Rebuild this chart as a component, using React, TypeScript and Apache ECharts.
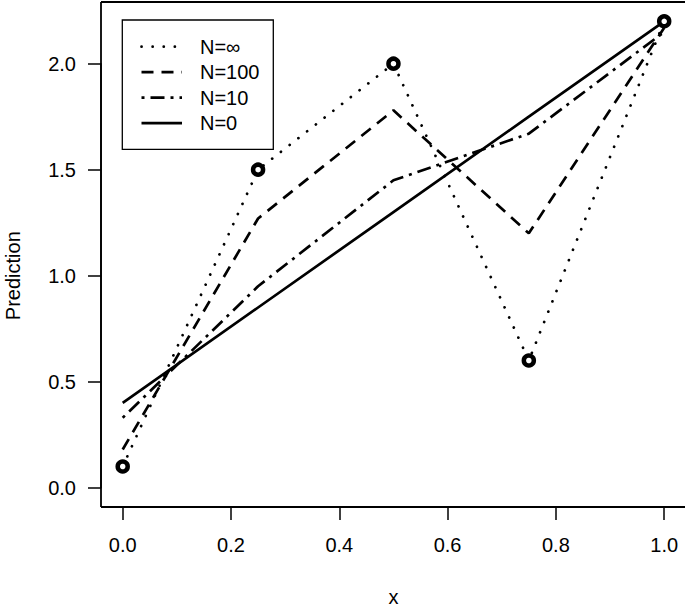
import React, { useEffect, useRef } from "react";
import * as echarts from "echarts";

const xValues = [0, 0.25, 0.5, 0.75, 1.0];
const observed = [0.1, 1.5, 2.0, 0.6, 2.2];
const nInf = [0.1, 1.5, 2.0, 0.6, 2.2];
const n100 = [0.18, 1.27, 1.78, 1.2, 2.17];
const n10 = [0.33, 0.95, 1.45, 1.67, 2.15];
const n0 = [0.4, 0.85, 1.3, 1.75, 2.2];
const seriesNames = ["N=\u221e", "N=100", "N=10", "N=0"];
const xTicks = [0, 0.2, 0.4, 0.6, 0.8, 1.0];
const yTicks = [0, 0.5, 1.0, 1.5, 2.0];

const FONT = "Liberation Sans, Arial, Helvetica, sans-serif";

const dashes: any[] = [
  { type: [0.1, 11], cap: "round" },
  { type: [12, 8], cap: "butt" },
  { type: [3, 6, 14, 6], cap: "butt" },
  { type: "solid", cap: "butt" },
];

export default function App() {
  const ref = useRef<HTMLDivElement>(null);
  useEffect(() => {
    if (!ref.current) return;
    const chart = echarts.init(ref.current, undefined, { renderer: "svg" });
    const lineData = [nInf, n100, n10, n0];
    const series: any[] = lineData.map((vals, i) => ({
      type: "line",
      name: seriesNames[i],
      data: vals.map((v, j) => [xValues[j], v]),
      showSymbol: false,
      symbol: "none",
      clip: false,
      silent: true,
      lineStyle: {
        color: "#000",
        width: 2.7,
        type: dashes[i].type,
        cap: dashes[i].cap,
      },
      z: 2,
    }));
    series.push({
      type: "scatter",
      name: "observed",
      data: observed.map((v, j) => [xValues[j], v]),
      symbol: "circle",
      symbolSize: 10,
      clip: false,
      silent: true,
      itemStyle: { color: "#fff", borderColor: "#000", borderWidth: 4.5, opacity: 1 },
      z: 5,
    });

    const legendTop = 46.7;
    const legendStep = 25.5;
    const legendGraphics: any[] = [
      {
        type: "rect",
        shape: { x: 122.3, y: 20, width: 151, height: 129.3 },
        style: { fill: "#fff", stroke: "#000", lineWidth: 1.3 },
        z: 10,
      },
    ];
    seriesNames.forEach((name, i) => {
      const y = legendTop + i * legendStep;
      legendGraphics.push({
        type: "line",
        shape: { x1: 141.5, y1: y, x2: 182, y2: y },
        style: {
          stroke: "#000",
          lineWidth: 2.7,
          lineDash: Array.isArray(dashes[i].type) ? dashes[i].type : null,
          lineCap: dashes[i].cap,
        },
        z: 11,
      });
      legendGraphics.push({
        type: "text",
        x: 200,
        y: y,
        style: {
          text: name,
          font: `20px ${FONT}`,
          fill: "#000",
          verticalAlign: "middle",
          align: "left",
        },
        z: 11,
      });
    });

    const boxStyle = { stroke: "#000", lineWidth: 1.8 };
    chart.setOption({
      animation: false,
      backgroundColor: "#fff",
      grid: {
        left: 122.7,
        right: 20.8,
        top: 63.7,
        bottom: 122.3,
        containLabel: false,
        outerBoundsMode: "none",
      },
      xAxis: {
        type: "value",
        min: 0,
        max: 1,
        interval: 0.2,
        offset: 19.3,
        name: "x",
        nameLocation: "middle",
        nameGap: 80,
        nameTextStyle: { fontSize: 20, fontFamily: FONT, color: "#000" },
        axisLine: { show: true, onZero: false, lineStyle: { color: "#000", width: 1.5 } },
        axisTick: { show: true, length: 13, lineStyle: { color: "#000", width: 1.5 } },
        axisLabel: {
          fontSize: 20,
          fontFamily: FONT,
          color: "#000",
          margin: 28,
          formatter: (v: number) => (xTicks.some((t) => Math.abs(t - v) < 1e-9) ? v.toFixed(1) : ""),
        },
        splitLine: { show: false },
      },
      yAxis: {
        type: "value",
        min: 0,
        max: 2,
        interval: 0.5,
        offset: 21.7,
        name: "Prediction",
        nameLocation: "middle",
        nameRotate: 90,
        nameGap: 78,
        nameTextStyle: { fontSize: 20, fontFamily: FONT, color: "#000" },
        axisLine: { show: true, onZero: false, lineStyle: { color: "#000", width: 1.5 } },
        axisTick: { show: true, length: 13, lineStyle: { color: "#000", width: 1.5 } },
        axisLabel: {
          fontSize: 20,
          fontFamily: FONT,
          color: "#000",
          margin: 25,
          formatter: (v: number) => (yTicks.some((t) => Math.abs(t - v) < 1e-9) ? v.toFixed(1) : ""),
        },
        splitLine: { show: false },
      },
      graphic: [
        { type: "line", shape: { x1: 101, y1: 2, x2: 686, y2: 2 }, style: boxStyle, z: 1, silent: true },
        { type: "line", shape: { x1: 101, y1: 2, x2: 101, y2: 507 }, style: boxStyle, z: 1, silent: true },
        { type: "line", shape: { x1: 101, y1: 507, x2: 686, y2: 507 }, style: boxStyle, z: 1, silent: true },
        { type: "line", shape: { x1: 686, y1: 2, x2: 686, y2: 507 }, style: boxStyle, z: 1, silent: true },
        ...legendGraphics,
      ],
      series,
    });
    return () => chart.dispose();
  }, []);
  return (
    <div
      ref={ref}
      style={{ position: "absolute", left: 0, top: 0, width: 685, height: 610 }}
    />
  );
}
